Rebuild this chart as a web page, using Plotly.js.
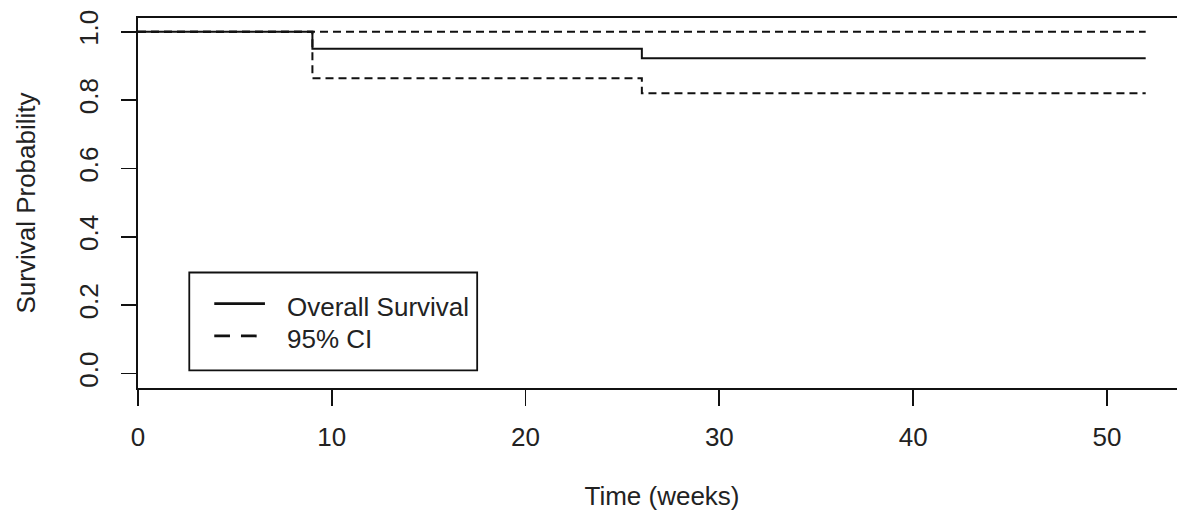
<!DOCTYPE html>
<html>
<head>
<meta charset="utf-8">
<script src="https://cdn.plot.ly/plotly-3.0.1.min.js"></script>
<style>
html, body { margin: 0; padding: 0; overflow: hidden; background: #fff; }
#chart { width: 1196px; height: 521px; }
</style>
</head>
<body>
<div id="chart"></div>
<script>
// Data
const timeWeeks = [0, 9, 26, 52];
const survival = [1.0, 0.95, 0.922, 0.922];
const ciUpper = [1.0, 1.0, 1.0, 1.0];
const ciLower = [1.0, 0.864, 0.820, 0.820];
const xTicks = [0, 10, 20, 30, 40, 50];
const yTicks = [0.0, 0.2, 0.4, 0.6, 0.8, 1.0];
const yTickText = ["0.0", "0.2", "0.4", "0.6", "0.8", "1.0"];
const legendLabels = ["Overall Survival", "95% CI"];

const FONT = "Liberation Sans, Arial, sans-serif";
const TXT = "#222";
const FS = 26;

const traces = [
  { x: timeWeeks, y: ciUpper, mode: "lines", line: { shape: "hv", color: "#111", width: 2, dash: "8px,5px" }, showlegend: false, hoverinfo: "skip" },
  { x: timeWeeks, y: ciLower, mode: "lines", line: { shape: "hv", color: "#111", width: 2, dash: "8px,5px" }, showlegend: false, hoverinfo: "skip" },
  { x: timeWeeks, y: survival, mode: "lines", line: { shape: "hv", color: "#111", width: 2 }, showlegend: false }
];

// plot area geometry helpers (paper coords)
const L = 138, T = 18, PW = 1048.4, PH = 369.7;
const px = v => (v - L) / PW;
const py = v => (T + PH - v) / PH;

const layout = {
  width: 1196, height: 521,
  margin: { l: L, t: T, r: 1196 - L - PW, b: 521 - T - PH, pad: 0 },
  paper_bgcolor: "#fff", plot_bgcolor: "#fff",
  font: { family: FONT, size: FS, color: TXT },
  xaxis: {
    range: [0, 54.08], showgrid: false, zeroline: false,
    showline: true, linecolor: "#111", linewidth: 1.8, mirror: true,
    ticks: "outside", ticklen: 16, tickwidth: 1.8, tickcolor: "#111",
    tickvals: xTicks, ticktext: xTicks.map(String), ticklabelstandoff: 9,
    tickfont: { size: FS, color: TXT, family: FONT },
    title: { text: "Time (weeks)", font: { size: FS, color: TXT, family: FONT }, standoff: 36 }
  },
  yaxis: {
    range: [-0.0423, 1.04], showgrid: false, zeroline: false,
    showline: true, linecolor: "#111", linewidth: 1.8, mirror: true,
    ticks: "outside", ticklen: 15, tickwidth: 1.8, tickcolor: "#111",
    tickvals: yTicks, ticktext: yTickText, tickangle: -90, ticklabelstandoff: 13,
    tickfont: { size: FS, color: TXT, family: FONT },
    title: { text: "Survival Probability", font: { size: FS, color: TXT, family: FONT }, standoff: 31 }
  },
  shapes: [
    { type: "rect", xref: "paper", yref: "paper", x0: px(189.3), x1: px(477.3), y0: py(370), y1: py(272.3), line: { color: "#111", width: 1.8 }, fillcolor: "rgba(0,0,0,0)" },
    { type: "line", xref: "paper", yref: "paper", x0: px(214.3), x1: px(265), y0: py(303.3), y1: py(303.3), line: { color: "#111", width: 2.8 } },
    { type: "line", xref: "paper", yref: "paper", x0: px(214.3), x1: px(256.7), y0: py(335.7), y1: py(335.7), line: { color: "#111", width: 2.8, dash: "15.7px,11px" } }
  ],
  annotations: [
    { xref: "paper", yref: "paper", x: px(285), y: py(306.5), xanchor: "left", yanchor: "middle", text: legendLabels[0], showarrow: false, font: { size: FS, color: TXT, family: FONT } },
    { xref: "paper", yref: "paper", x: px(285), y: py(338.5), xanchor: "left", yanchor: "middle", text: legendLabels[1], showarrow: false, font: { size: FS, color: TXT, family: FONT } }
  ]
};

Plotly.newPlot("chart", traces, layout, { staticPlot: true, displayModeBar: false });
</script>
</body>
</html>
